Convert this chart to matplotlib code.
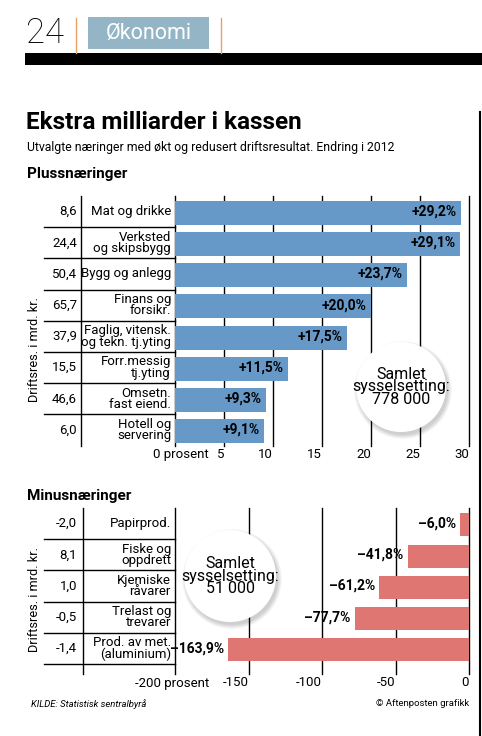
import numpy as np
import matplotlib
matplotlib.use("Agg")
import matplotlib.pyplot as plt
from matplotlib.patches import Circle, Rectangle
from matplotlib.lines import Line2D
from matplotlib.transforms import blended_transform_factory, IdentityTransform, offset_copy

plt.rcParams['font.family'] = ['Roboto', 'DejaVu Sans']
plt.rcParams['font.stretch'] = 'condensed'

# ---- data ----
plus_labels = ["Mat og drikke", "Verksted\nog skipsbygg", "Bygg og anlegg", "Finans og\nforsikr.",
               "Faglig, vitensk.\nog tekn. tj.yting", "Forr.messig\ntj.yting", "Omsetn.\nfast eiend.",
               "Hotell og\nservering"]
plus_drift = [8.6, 24.4, 50.4, 65.7, 37.9, 15.5, 46.6, 6.0]
plus_pct = [29.2, 29.1, 23.7, 20.0, 17.5, 11.5, 9.3, 9.1]
plus_ticks = [0, 5, 10, 15, 20, 25, 30]
plus_ticklabels = ["0 prosent", "5", "10", "15", "20", "25", "30"]

minus_labels = ["Papirprod.", "Fiske og\noppdrett", "Kjemiske\nråvarer", "Trelast og\ntrevarer",
                "Prod. av met.\n(aluminium)"]
minus_drift = [-2.0, 8.1, 1.0, -0.5, -1.4]
minus_pct = [-6.0, -41.8, -61.2, -77.7, -163.9]
minus_ticks = [-200, -150, -100, -50, 0]
minus_ticklabels = ["-200 prosent", "-150", "-100", "-50", "0"]

BLUE = "#6699c7"
RED = "#e07672"

W, H = 482, 736
fig = plt.figure(figsize=(W / 100, H / 100), dpi=100)


def fx(px):
    return px / W


def fy(py):
    return 1 - py / H


def fmt(v):
    return f"{v:.1f}".replace(".", ",")


def section(top, nrows, xlim, ticks, ticklabels, drift, labels, pct, color,
            barh, vline_x, bottom_line, grid_extra, ylab_y):
    bottom = top + nrows * 31.2
    ax = fig.add_axes([fx(175), fy(bottom), (469 - 175) / W, (bottom - top) / H])
    ax.set_xlim(*xlim)
    ax.set_ylim(nrows, 0)
    ax.axis('off')
    rows = np.arange(nrows) + 0.5
    ax.barh(rows + 0.04, pct, height=barh, color=color, zorder=2)
    yend = nrows + grid_extra / 31.2
    for t in ticks:
        ax.plot([t, t], [0, yend], color='black', lw=1, zorder=1, clip_on=False)
    tr = blended_transform_factory(fig.transFigure, ax.transData)
    seps = list(range(1, nrows)) + ([nrows] if bottom_line else [])
    for b in seps:
        ax.plot([fx(44), fx(175)], [b, b], transform=tr, color='black', lw=1, clip_on=False)
    ax.plot([fx(vline_x)] * 2, [0, yend], transform=tr, color='black', lw=1, clip_on=False)
    for r, d, lab in zip(rows, drift, labels):
        ax.text(fx(77), r, fmt(d), transform=tr, ha='right', va='center', fontsize=9.5)
        ax.text(fx(171), r, lab, transform=tr, ha='right', va='center', fontsize=9.5,
                linespacing=0.85)
    for r, v in zip(rows, pct):
        s = (f"{v:+.1f}%").replace(".", ",").replace("-", "–")
        ax.annotate(s, xy=(v, r), xytext=(-3, 0), textcoords='offset points',
                    ha='right', va='center', fontsize=10, fontweight='bold', zorder=3)
    # tick labels
    ty = bottom + grid_extra + 9
    ttr = blended_transform_factory(ax.transData, fig.transFigure)
    for i, (t, lab) in enumerate(zip(ticks, ticklabels)):
        if i == 0:
            trf = offset_copy(ttr, fig=fig, x=34, y=0, units='dots')
        else:
            trf = ttr
        ax.text(t, fy(ty), lab, transform=trf, ha='right', va='center', fontsize=9.5)
    fig.text(fx(35), fy(ylab_y), "Driftsres. i mrd. kr.", rotation=90,
             ha='center', va='center', fontsize=9.2)
    return ax


ax1 = section(196, 8, (0, 30), plus_ticks, plus_ticklabels, plus_drift, plus_labels,
              plus_pct, BLUE, 0.77, 81, False, 0, 349)
ax2 = section(508, 5, (-200, 0), minus_ticks, minus_ticklabels, minus_drift, minus_labels,
              minus_pct, RED, 0.74, 83, True, 10, 600)


def bubble(cx, cy, r, text):
    for k in range(8):
        fig.add_artist(Circle((cx + 2, H - cy - 3), r + 4 - k * 0.6, transform=IdentityTransform(),
                              color='black', alpha=0.025, zorder=5, lw=0))
    fig.add_artist(Circle((cx, H - cy), r, transform=IdentityTransform(),
                          facecolor='white', edgecolor='none', zorder=6))
    fig.text(fx(cx), fy(cy), text, ha='center', va='center', fontsize=11.5,
             linespacing=0.82, zorder=7)


bubble(401, 387, 45, "Samlet\nsysselsetting:\n778 000")
bubble(230, 576, 46, "Samlet\nsysselsetting:\n51 000")

# ---- header ----
fig.text(fx(26), fy(43), "24", fontsize=25, fontweight='light', va='baseline')
fig.add_artist(Rectangle((fx(88), fy(49)), (209 - 88) / W, (49 - 17) / H,
                         transform=fig.transFigure, color='#93b5c6', lw=0))
fig.text(fx(148.5), fy(33), "Økonomi", color='white', fontsize=15.5,
         ha='center', va='center')
for x in (76, 221):
    fig.add_artist(Line2D([fx(x), fx(x)], [fy(18), fy(53)], transform=fig.transFigure,
                          color='#e9a063', lw=1))
fig.add_artist(Rectangle((fx(25), fy(65)), (W - 25) / W, 12 / H,
                         transform=fig.transFigure, color='black', lw=0))
fig.add_artist(Line2D([fx(480), fx(480)], [fy(112), 0], transform=fig.transFigure,
                      color='black', lw=1.5))

fig.text(fx(26), fy(129), "Ekstra milliarder i kassen", fontsize=17.5, fontweight='bold',
         va='baseline')
fig.text(fx(27), fy(151), "Utvalgte næringer med økt og redusert driftsresultat. Endring i 2012",
         fontsize=8.8, va='baseline')
fig.text(fx(27), fy(178), "Plussnæringer", fontsize=11, fontweight='bold', va='baseline')
fig.text(fx(27), fy(500), "Minusnæringer", fontsize=11, fontweight='bold', va='baseline')

fig.text(fx(31), fy(704), "KILDE: Statistisk sentralbyrå", fontsize=6.8, style='italic',
         va='center')
fig.text(fx(469), fy(704), "© Aftenposten grafikk", fontsize=6.8, ha='right', va='center')

fig.savefig("out.png", dpi=100)
